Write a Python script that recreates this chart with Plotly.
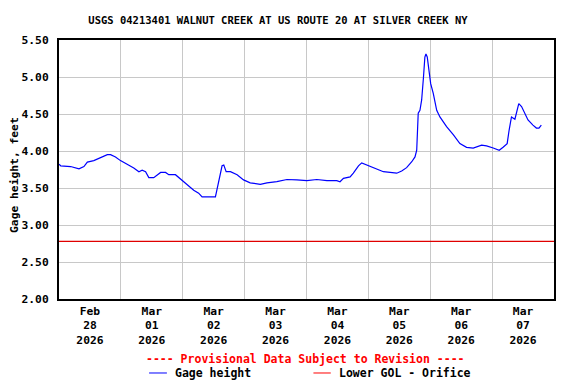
import plotly.graph_objects as go

TITLE = "USGS 04213401 WALNUT CREEK AT US ROUTE 20 AT SILVER CREEK NY"

times = [
    "2026-02-28 00:00", "2026-02-28 00:40", "2026-02-28 04:30", "2026-02-28 07:45",
    "2026-02-28 09:40", "2026-02-28 11:00", "2026-02-28 13:30", "2026-02-28 16:10",
    "2026-02-28 18:45", "2026-02-28 20:00", "2026-02-28 21:55", "2026-02-28 23:50",
    "2026-03-01 02:30", "2026-03-01 05:00", "2026-03-01 07:00", "2026-03-01 08:15",
    "2026-03-01 09:35", "2026-03-01 10:50", "2026-03-01 12:45", "2026-03-01 15:25",
    "2026-03-01 17:20", "2026-03-01 18:35", "2026-03-01 21:10", "2026-03-01 23:45",
    "2026-03-02 02:20", "2026-03-02 04:15", "2026-03-02 06:10", "2026-03-02 07:30",
    "2026-03-02 12:40", "2026-03-02 13:20", "2026-03-02 14:35", "2026-03-02 15:15",
    "2026-03-02 15:55", "2026-03-02 16:50", "2026-03-02 18:30", "2026-03-02 21:05",
    "2026-03-02 23:35", "2026-03-03 02:10", "2026-03-03 06:05", "2026-03-03 08:40",
    "2026-03-03 12:30", "2026-03-03 16:25", "2026-03-03 20:15", "2026-03-04 00:10",
    "2026-03-04 04:00", "2026-03-04 07:55", "2026-03-04 11:45", "2026-03-04 13:00",
    "2026-03-04 14:20", "2026-03-04 16:55", "2026-03-04 18:10", "2026-03-04 20:10",
    "2026-03-04 21:25", "2026-03-04 22:45", "2026-03-05 00:40", "2026-03-05 03:15",
    "2026-03-05 05:50", "2026-03-05 08:25", "2026-03-05 11:00", "2026-03-05 12:55",
    "2026-03-05 14:50", "2026-03-05 16:50", "2026-03-05 18:05", "2026-03-05 18:45",
    "2026-03-05 19:20", "2026-03-05 20:00", "2026-03-05 20:40", "2026-03-05 21:20",
    "2026-03-05 21:55", "2026-03-05 22:20", "2026-03-05 22:50", "2026-03-05 23:30",
    "2026-03-06 00:10", "2026-03-06 01:10", "2026-03-06 02:30", "2026-03-06 03:45",
    "2026-03-06 06:20", "2026-03-06 08:55", "2026-03-06 11:30", "2026-03-06 14:05",
    "2026-03-06 16:40", "2026-03-06 19:55", "2026-03-06 21:50", "2026-03-07 00:25",
    "2026-03-07 02:45", "2026-03-07 04:15", "2026-03-07 05:50", "2026-03-07 06:35",
    "2026-03-07 07:30", "2026-03-07 08:50", "2026-03-07 09:30", "2026-03-07 10:20",
    "2026-03-07 11:25", "2026-03-07 12:40", "2026-03-07 13:55", "2026-03-07 15:50",
    "2026-03-07 17:10", "2026-03-07 18:10", "2026-03-07 19:05",
]
gage_height = [
    3.82, 3.80, 3.79, 3.76, 3.79, 3.85, 3.87, 3.91, 3.95, 3.95, 3.92, 3.87,
    3.82, 3.77, 3.72, 3.74, 3.72, 3.64, 3.64, 3.71, 3.71, 3.68, 3.68, 3.60,
    3.52, 3.47, 3.43, 3.38, 3.38, 3.50, 3.72, 3.80, 3.81, 3.72, 3.72, 3.68,
    3.61, 3.57, 3.55, 3.57, 3.585, 3.615, 3.61, 3.60, 3.615, 3.60, 3.60, 3.585,
    3.63, 3.65, 3.70, 3.80, 3.84, 3.82, 3.79, 3.75, 3.72, 3.71, 3.70, 3.73,
    3.775, 3.855, 3.92, 4.01, 4.51, 4.55, 4.69, 4.98, 5.27, 5.31, 5.27, 5.09,
    4.91, 4.78, 4.55, 4.46, 4.33, 4.22, 4.10, 4.05, 4.04, 4.08, 4.07, 4.04,
    4.01, 4.05, 4.10, 4.28, 4.46, 4.43, 4.51, 4.64, 4.60, 4.51, 4.42, 4.35,
    4.31, 4.31, 4.35,
]
gol_times = ["2026-02-28 00:00", "2026-03-08 00:00"]
gol_values = [2.78, 2.78]

x_range = ["2026-02-28 00:00", "2026-03-08 00:00"]
y_ticks = [2.0, 2.5, 3.0, 3.5, 4.0, 4.5, 5.0, 5.5]

FONT = "DejaVu Sans Mono"

fig = go.Figure()
fig.add_trace(go.Scatter(x=times, y=gage_height, mode="lines",
                         line=dict(color="#0000ff", width=1.2), name="Gage height"))
fig.add_trace(go.Scatter(x=gol_times, y=gol_values, mode="lines",
                         line=dict(color="#e00000", width=1.2), name="Lower GOL - Orifice"))

# page has an 8px body margin, so the figure is 8px smaller than the window
fig.update_layout(
    width=568, height=376,
    margin=dict(l=51, r=22, t=32, b=85, autoexpand=False),
    paper_bgcolor="white", plot_bgcolor="white",
    showlegend=False,
    font=dict(family=FONT, size=11.3, color="black"),
    title=dict(text="<b>" + TITLE + "</b>", x=270 / 568, xref="container", xanchor="center",
               y=1 - 12 / 376, yref="container", yanchor="middle",
               font=dict(family=FONT, size=10.5, color="black")),
)

fig.update_xaxes(
    type="date", range=x_range, tick0="2026-02-28", dtick=86400000,
    ticklabelmode="period", tickformat="<b>%b</b><br><b>%d</b><br><b>%Y</b>",
    showgrid=True, gridcolor="#c8c8c8", gridwidth=1,
    showline=True, linecolor="black", linewidth=2, mirror=True,
    ticks="", zeroline=False, automargin=False,
    tickfont=dict(family=FONT, size=11.3, color="black"),
)
fig.update_yaxes(
    range=[2.0, 5.5], tickvals=y_ticks,
    ticktext=["<b>%.2f</b>" % v for v in y_ticks],
    showgrid=True, gridcolor="#c8c8c8", gridwidth=1,
    showline=True, linecolor="black", linewidth=2, mirror=True,
    ticks="", zeroline=False, ticklabelstandoff=6, automargin=False,
    tickfont=dict(family=FONT, size=11.3, color="black"),
)

fig.add_annotation(text="<b>Gage height, feet</b>", xref="paper", yref="paper",
                   x=-44 / 495, y=0.479, textangle=-90, showarrow=False,
                   xanchor="center", yanchor="middle",
                   font=dict(family=FONT, size=11.3, color="black"))
fig.add_annotation(text="<b>---- Provisional Data Subject to Revision ----</b>",
                   xref="paper", yref="paper", x=0.497, y=-0.2317, showarrow=False,
                   xanchor="center", yanchor="middle",
                   font=dict(family=FONT, size=11.5, color="#ff0000"))
fig.add_annotation(text="<b>Gage height</b>", xref="paper", yref="paper",
                   x=0.2297, y=-0.2857, showarrow=False, xanchor="left", yanchor="middle",
                   font=dict(family=FONT, size=11.5, color="black"))
fig.add_annotation(text="<b>Lower GOL - Orifice</b>", xref="paper", yref="paper",
                   x=0.561, y=-0.2857, showarrow=False, xanchor="left", yanchor="middle",
                   font=dict(family=FONT, size=11.5, color="black"))
fig.add_shape(type="line", xref="paper", yref="paper", x0=0.182, x1=0.218,
              y0=-0.2857, y1=-0.2857, line=dict(color="#0000ff", width=1))
fig.add_shape(type="line", xref="paper", yref="paper", x0=0.514, x1=0.549,
              y0=-0.2857, y1=-0.2857, line=dict(color="#ff0000", width=1))

fig.write_html("out.html")
